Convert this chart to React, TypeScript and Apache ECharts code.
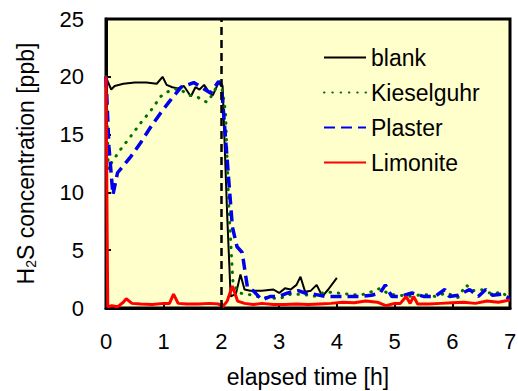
import React, { useEffect, useRef } from "react";
import * as echarts from "echarts";

const blankT = [0, 0.03, 0.09, 0.15, 0.3, 0.5, 0.7, 0.88, 0.98, 1.05, 1.15, 1.25, 1.35, 1.47, 1.55, 1.62, 1.7, 1.78, 1.85, 1.95, 2.02, 2.1, 2.16, 2.25, 2.33, 2.4, 2.5, 2.7, 2.9, 3.0, 3.1, 3.2, 3.3, 3.37, 3.45, 3.55, 3.65, 3.75, 3.85, 4.0];
const blankV = [20, 19.6, 18.9, 19.2, 19.4, 19.5, 19.5, 19.4, 20.0, 19.3, 19.1, 19.0, 19.2, 18.3, 19.1, 18.9, 19.3, 18.7, 18.4, 19.5, 19.2, 8, 1.0, 1.2, 2.9, 1.6, 1.5, 1.5, 1.6, 1.3, 1.7, 1.6, 2.0, 2.7, 1.4, 1.5, 2.0, 1.0, 1.6, 2.6];

const kieselT = [0, 0.04, 0.1, 0.25, 0.42, 0.6, 0.78, 0.95, 1.07, 1.25, 1.45, 1.6, 1.75, 1.85, 1.95, 2.0, 2.07, 2.13, 2.2, 2.3, 2.45, 2.6, 2.8, 3.0, 3.2, 3.4, 3.6, 3.8, 4.0, 4.2, 4.4, 4.6, 4.75, 4.9, 5.1, 5.3, 5.5, 5.7, 5.9, 6.1, 6.24, 6.35, 6.5, 6.7, 6.85, 7.0];
const kieselV = [20, 12, 12.6, 13.7, 14.8, 16.0, 17.1, 18.3, 18.7, 19.0, 18.4, 18.2, 17.8, 18.5, 19.5, 19.3, 17, 8.5, 2.2, 1.3, 1.2, 1.0, 0.9, 0.8, 1.2, 1.2, 1.0, 1.4, 1.3, 1.2, 1.1, 1.4, 1.7, 1.2, 1.1, 1.0, 1.2, 1.0, 1.3, 0.9, 2.0, 1.5, 1.6, 1.2, 1.4, 0.8];

const plasterT = [0, 0.05, 0.12, 0.2, 0.3, 0.43, 0.6, 0.78, 0.95, 1.12, 1.3, 1.52, 1.65, 1.81, 1.95, 2.0, 2.1, 2.19, 2.27, 2.36, 2.45, 2.55, 2.7, 2.85, 3.0, 3.15, 3.33, 3.45, 3.6, 3.8, 4.0, 4.2, 4.4, 4.6, 4.75, 4.84, 4.95, 5.1, 5.3, 5.5, 5.7, 5.87, 5.95, 6.1, 6.3, 6.45, 6.58, 6.7, 6.85, 7.0];
const plasterV = [20, 14, 9.8, 11.7, 12.3, 13.1, 14.3, 15.7, 16.9, 18.0, 19.1, 19.5, 19.1, 18.6, 19.6, 19.3, 12.8, 7.0, 5.3, 4.8, 1.8, 1.5, 0.7, 1.0, 1.0, 1.3, 1.5, 1.3, 1.2, 1.0, 1.0, 1.0, 1.0, 1.1, 1.3, 2.0, 1.0, 1.0, 1.3, 1.0, 1.0, 1.6, 1.0, 1.1, 1.6, 1.0, 1.6, 1.1, 1.2, 0.8];

const limoniteT = [0, 0.03, 0.1, 0.2, 0.3, 0.35, 0.45, 0.6, 0.8, 1.0, 1.1, 1.17, 1.25, 1.4, 1.6, 1.8, 1.95, 2.02, 2.1, 2.19, 2.28, 2.4, 2.55, 2.7, 2.9, 3.1, 3.3, 3.5, 3.7, 3.9, 4.1, 4.3, 4.5, 4.7, 4.85, 5.0, 5.1, 5.2, 5.27, 5.33, 5.4, 5.6, 5.8, 6.0, 6.2, 6.4, 6.6, 6.8, 7.0];
const limoniteV = [20, 0.1, 0.2, 0.1, 0.5, 0.8, 0.4, 0.35, 0.3, 0.4, 0.4, 1.2, 0.4, 0.35, 0.35, 0.4, 0.35, 0.1, 0.6, 1.9, 0.6, 0.4, 0.3, 0.4, 0.3, 0.3, 0.35, 0.3, 0.35, 0.4, 0.5, 0.45, 0.6, 0.5, 0.2, 0.4, 0.4, 1.0, 0.4, 1.0, 0.35, 0.35, 0.4, 0.45, 0.5, 0.4, 0.6, 0.5, 0.7];

const seriesNames = ["blank", "Kieselguhr", "Plaster", "Limonite"];
const switchTime = 2;

const FONT = "Liberation Sans, Arial, sans-serif";
const FS = 23;

function pairs(t: number[], v: number[]) {
  return t.map((x, i) => [x, v[i]]);
}

export default function App() {
  const ref = useRef<HTMLDivElement>(null);
  useEffect(() => {
    if (!ref.current) return;
    const chart = echarts.init(ref.current, undefined, { renderer: "svg" });
    chart.setOption({
      animation: false,
      backgroundColor: "#ffffff",
      textStyle: { fontFamily: FONT },
      grid: {
        left: 106,
        right: 8,
        top: 19,
        bottom: 83,
        outerBoundsMode: "none",
        containLabel: false,
        show: true,
        backgroundColor: "#FFFFCC",
        borderColor: "#000",
        borderWidth: 3,
      },
      legend: {
        orient: "vertical",
        left: 323,
        top: 46,
        padding: 0,
        itemWidth: 42,
        itemHeight: 14,
        itemGap: 12,
        itemStyle: { opacity: 0 },
        textStyle: { fontFamily: FONT, fontSize: FS, color: "#000" },
        data: seriesNames,
      },
      xAxis: {
        type: "value",
        min: 0,
        max: 7,
        interval: 1,
        name: "elapsed time [h]",
        nameLocation: "middle",
        nameGap: 57,
        nameTextStyle: { fontFamily: FONT, fontSize: FS, color: "#000" },
        axisLine: { show: true, lineStyle: { color: "#000", width: 3 } },
        axisTick: { show: true, inside: true, length: 5, lineStyle: { color: "#000", width: 2 } },
        axisLabel: { fontFamily: FONT, fontSize: 22, color: "#000", margin: 22 },
        splitLine: { show: false },
      },
      yAxis: {
        type: "value",
        min: 0,
        max: 25,
        interval: 5,
        name: "{a|H}{s|2}{a|S concentration [ppb]}",
        nameLocation: "middle",
        nameGap: 68,
        nameTextStyle: {
          fontFamily: FONT,
          color: "#000",
          rich: {
            a: { fontFamily: FONT, fontSize: FS, color: "#000" },
            s: { fontFamily: FONT, fontSize: 14, color: "#000", padding: [10, 0, 0, 0] },
          },
        },
        axisLine: { show: true, lineStyle: { color: "#000", width: 3 } },
        axisTick: { show: true, inside: true, length: 5, lineStyle: { color: "#000", width: 2 } },
        axisLabel: { fontFamily: FONT, fontSize: 22, color: "#000", margin: 22 },
        splitLine: { show: false },
      },
      series: [
        {
          name: seriesNames[0],
          type: "line",
          showSymbol: false,
          symbol: "none",
          color: "#000000",
          lineStyle: { color: "#000000", width: 2 },
          data: pairs(blankT, blankV),
          markLine: {
            silent: true,
            symbol: "none",
            label: { show: false },
            lineStyle: { color: "#000", width: 2.5, type: [8, 5] },
            data: [{ xAxis: switchTime }],
          },
        },
        {
          name: seriesNames[1],
          type: "line",
          showSymbol: false,
          symbol: "none",
          color: "#007000",
          lineStyle: { color: "#007000", width: 3, type: [0.5, 7.8], cap: "round" },
          data: pairs(kieselT, kieselV),
        },
        {
          name: seriesNames[2],
          type: "line",
          showSymbol: false,
          symbol: "none",
          color: "#0000EE",
          lineStyle: { color: "#0000EE", width: 3.5, type: [11, 6] },
          data: pairs(plasterT, plasterV),
        },
        {
          name: seriesNames[3],
          type: "line",
          showSymbol: false,
          symbol: "none",
          color: "#FF0000",
          lineStyle: { color: "#FF0000", width: 3 },
          data: pairs(limoniteT, limoniteV),
        },
      ],
    });
    return () => chart.dispose();
  }, []);
  return <div ref={ref} style={{ width: 518, height: 391, position: "absolute", left: 0, top: 0 }} />;
}
